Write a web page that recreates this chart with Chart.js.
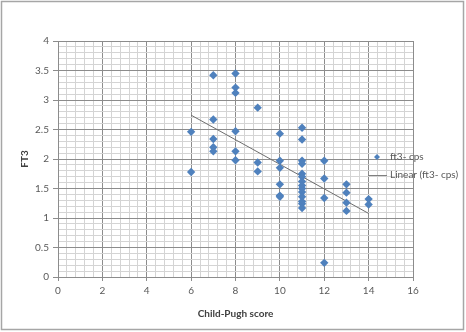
<!DOCTYPE html>
<html>
<head>
<meta charset="utf-8">
<style>
  html, body { margin: 0; padding: 0; background: #fff; }
  #wrap { width: 466px; height: 332px; }
</style>
<script src="https://cdn.jsdelivr.net/npm/chart.js@4"></script>
</head>
<body>
<div id="wrap"><canvas id="chart" width="466" height="332"></canvas></div>
<script>
// Child-Pugh score (x) against FT3 (y), one x per group
const groupScores = [6, 7, 8, 9, 10, 11, 12, 13, 14];
const ft3ByScore = [
  [2.46, 1.78],
  [3.42, 2.67, 2.34, 2.20, 2.13],
  [3.45, 3.21, 3.12, 2.47, 2.13, 1.98],
  [2.87, 1.94, 1.79],
  [2.43, 1.97, 1.85, 1.57, 1.38, 1.36],
  [2.53, 2.33, 1.97, 1.92, 1.75, 1.70, 1.62, 1.55, 1.50, 1.44, 1.36, 1.28, 1.24, 1.17],
  [1.97, 1.67, 1.34, 0.24],
  [1.57, 1.43, 1.26, 1.12],
  [1.32, 1.23]
];
const xLabelStep = 2;
const yLabelStep = 0.5;

const seriesName = "ft3- cps";
const trendName = "Linear (ft3- cps)";

/* ---------- points + least squares trend ---------- */
const points = [];
groupScores.forEach((x, i) => ft3ByScore[i].forEach(y => points.push({ x, y })));

function linearFit(pts) {
  const n = pts.length;
  const mx = pts.reduce((s, p) => s + p.x, 0) / n;
  const my = pts.reduce((s, p) => s + p.y, 0) / n;
  let sxy = 0, sxx = 0;
  pts.forEach(p => { sxy += (p.x - mx) * (p.y - my); sxx += (p.x - mx) ** 2; });
  const b = sxy / sxx;
  return { a: my - b * mx, b };
}
const fit = linearFit(points);
const xMin = Math.min(...groupScores), xMax = Math.max(...groupScores);
const trend = [xMin, xMax].map(x => ({ x, y: fit.a + fit.b * x }));

/* ---------- helpers ---------- */
const isMajor = (v, step) => Math.abs(v / step - Math.round(v / step)) < 1e-6;
const MAJOR = "#8c8c8c", MINOR = "#d4d4d4";
const FONT = "Lato, 'Open Sans', sans-serif";

const frame = {
  id: "frame",
  beforeDraw(chart) {
    const c = chart.ctx;
    c.save();
    c.fillStyle = "#fff";
    c.fillRect(0, 0, chart.width, chart.height);
    c.strokeStyle = "#a6a6a6";
    c.lineWidth = 1.5;
    c.strokeRect(1.5, 1.5, chart.width - 4, chart.height - 4);
    c.restore();
  },
  afterDraw(chart) {
    // legend to the right of the plot
    const c = chart.ctx;
    c.save();
    c.fillStyle = "#4f81bd";
    c.beginPath();
    c.moveTo(377, 154); c.lineTo(380, 157); c.lineTo(377, 160); c.lineTo(374, 157);
    c.closePath();
    c.fill();
    c.strokeStyle = "#7f7f7f";
    c.lineWidth = 1;
    c.beginPath();
    c.moveTo(368, 175.5); c.lineTo(387, 175.5);
    c.stroke();
    c.fillStyle = "#595959";
    c.font = "10px " + FONT;
    c.textBaseline = "middle";
    c.fillText(seriesName, 390, 157);
    c.fillText(trendName, 390, 175);
    c.restore();
  }
};

new Chart(document.getElementById("chart"), {
  type: "scatter",
  data: {
    datasets: [
      {
        label: seriesName,
        data: points,
        pointStyle: "rectRot",
        pointRadius: 4.2,
        backgroundColor: "#4f81bd",
        borderColor: "#4f81bd",
        borderWidth: 0
      },
      {
        label: trendName,
        type: "line",
        data: trend,
        showLine: true,
        pointRadius: 0,
        borderColor: "#6e6e6e",
        borderWidth: 1
      }
    ]
  },
  options: {
    responsive: false,
    animation: false,
    layout: { padding: { top: 41, right: 53, left: 0, bottom: 0 } },
    plugins: { legend: { display: false }, tooltip: { enabled: false } },
    scales: {
      x: {
        type: "linear",
        min: 0, max: 16,
        afterFit: s => { s.height = 55; },
        ticks: {
          stepSize: 0.4,
          autoSkip: false,
          maxRotation: 0,
          padding: 4,
          color: "#595959",
          font: { family: FONT, size: 10 },
          callback: v => isMajor(v, xLabelStep) ? String(Math.round(v)) : ""
        },
        grid: {
          color: ctx => isMajor(ctx.tick.value, xLabelStep) ? MAJOR : MINOR,
          tickLength: 4,
          tickColor: ctx => isMajor(ctx.tick.value, xLabelStep) ? MAJOR : "rgba(0,0,0,0)"
        },
        border: { color: MAJOR },
        title: {
          display: true,
          text: "Child-Pugh score",
          color: "#404040",
          font: { family: FONT, size: 10, weight: "bold" },
          padding: { top: 0, bottom: 12 }
        }
      },
      y: {
        min: 0, max: 4,
        afterFit: s => { s.width = 58; },
        ticks: {
          stepSize: 0.1,
          autoSkip: false,
          padding: 4,
          color: "#595959",
          font: { family: FONT, size: 10 },
          callback: v => isMajor(v, yLabelStep) ? String(Math.round(v * 10) / 10) : ""
        },
        grid: {
          color: ctx => isMajor(ctx.tick.value, yLabelStep) ? MAJOR : MINOR,
          tickLength: 5,
          tickColor: ctx => isMajor(ctx.tick.value, yLabelStep) ? MAJOR : "rgba(0,0,0,0)"
        },
        border: { color: MAJOR },
        title: {
          display: true,
          text: "FT3",
          color: "#404040",
          font: { family: FONT, size: 10, weight: "bold" },
          padding: { top: 19, bottom: 0 }
        }
      }
    }
  },
  plugins: [frame]
});
</script>
</body>
</html>
